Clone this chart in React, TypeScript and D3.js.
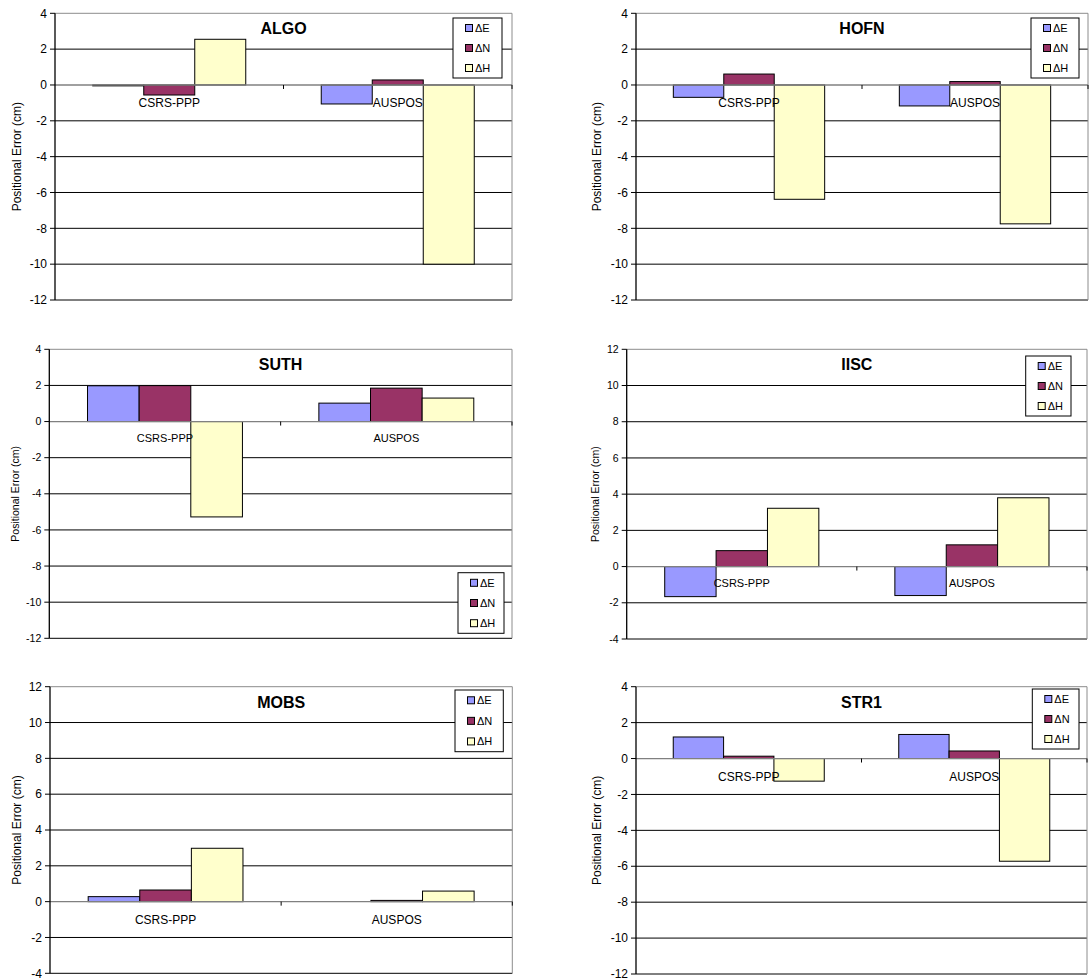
import React from "react";
import * as d3 from "d3";

// ---------- DATA ----------
const categories = ["CSRS-PPP", "AUSPOS"];
const seriesNames = ["ΔE", "ΔN", "ΔH"];
const seriesColors = ["#9999FF", "#993366", "#FFFFCC"];

const stations = ["ALGO", "HOFN", "SUTH", "IISC", "MOBS", "STR1"];
// values[category][series] in cm
const algoValues = [[-0.05, -0.56, 2.55], [-1.06, 0.28, -10.0]];
const hofnValues = [[-0.69, 0.61, -6.38], [-1.17, 0.19, -7.75]];
const suthValues = [[1.98, 1.99, -5.28], [1.02, 1.85, 1.3]];
const iiscValues = [[-1.66, 0.88, 3.22], [-1.6, 1.2, 3.8]];
const mobsValues = [[0.28, 0.65, 2.98], [0.0, 0.07, 0.59]];
const str1Values = [[1.2, 0.13, -1.26], [1.34, 0.42, -5.72]];
const stationValues = [algoValues, hofnValues, suthValues, iiscValues, mobsValues, str1Values];

const yDomains: [number, number][] = [[-12, 4], [-12, 4], [-12, 4], [-4, 12], [-4, 12], [-12, 4]];
const yTitle = "Positional Error (cm)";

// ---------- LAYOUT ----------
type Layout = {
  left: number; right: number; top: number; bottom: number;
  legend: { x: number; y: number; w: number; h: number };
  yTitleX: number; tickFont: number; catFont: number; yTitleFont: number;
  catDy: number;
};
const layouts: Layout[] = [
  { left: 55, right: 512, top: 13.3, bottom: 300, legend: { x: 453, y: 18, w: 49, h: 60 }, yTitleX: 17, tickFont: 12, catFont: 12, yTitleFont: 12, catDy: 22 },
  { left: 636, right: 1088, top: 13.3, bottom: 300, legend: { x: 1031, y: 18, w: 48, h: 60 }, yTitleX: 597, tickFont: 12, catFont: 12, yTitleFont: 12, catDy: 22 },
  { left: 49.3, right: 512, top: 349.3, bottom: 638.3, legend: { x: 458, y: 572.7, w: 46, h: 60.6 }, yTitleX: 15, tickFont: 10.5, catFont: 11, yTitleFont: 10.5, catDy: 20 },
  { left: 626.7, right: 1087, top: 349.3, bottom: 639, legend: { x: 1025.7, y: 356, w: 45.3, h: 60 }, yTitleX: 595, tickFont: 10.5, catFont: 11, yTitleFont: 10.5, catDy: 20 },
  { left: 50, right: 512.3, top: 686.7, bottom: 973.3, legend: { x: 455, y: 690, w: 48.3, h: 61.7 }, yTitleX: 17, tickFont: 12, catFont: 12, yTitleFont: 12, catDy: 22 },
  { left: 636, right: 1087, top: 686.7, bottom: 974, legend: { x: 1032.3, y: 689, w: 46.7, h: 60 }, yTitleX: 597, tickFont: 12, catFont: 12, yTitleFont: 12, catDy: 22 },
];

const FONT = "'Liberation Sans', Arial, Helvetica, sans-serif";

function Panel({ idx }: { idx: number }) {
  const L = layouts[idx];
  const values = stationValues[idx];
  const [ymin, ymax] = yDomains[idx];
  const y = d3.scaleLinear().domain([ymin, ymax]).range([L.bottom, L.top]);
  const ticks = d3.range(ymin, ymax + 0.001, 2);
  const x0 = d3.scaleBand<string>().domain(categories).range([L.left, L.right]).padding(0);
  const x1 = d3.scaleBand<string>().domain(seriesNames).range([0, x0.bandwidth()]).paddingInner(0).paddingOuter(0.74);
  const y0 = y(0);
  const cx = (L.left + L.right) / 2;
  const midY = (L.top + L.bottom) / 2;

  return (
    <g>
      {/* gridlines */}
      {ticks.filter((t) => t !== ymax && t !== 0).map((t) => (
        <line key={t} x1={L.left} x2={L.right} y1={y(t)} y2={y(t)} stroke="#000" strokeWidth={1} />
      ))}
      {/* plot border top/right */}
      <line x1={L.left} x2={L.right} y1={L.top} y2={L.top} stroke="#8c8c8c" strokeWidth={1} />
      <line x1={L.right} x2={L.right} y1={L.top} y2={L.bottom} stroke="#8c8c8c" strokeWidth={1} />
      {/* bars */}
      {categories.map((c, ci) =>
        seriesNames.map((s, si) => {
          const v = values[ci][si];
          const bx = (x0(c) as number) + (x1(s) as number);
          const top = Math.min(y(v), y0);
          const h = Math.abs(y(v) - y0);
          return (
            <rect key={c + s} x={bx} y={top} width={x1.bandwidth()} height={h}
              fill={seriesColors[si]} stroke="#000" strokeWidth={1} />
          );
        })
      )}
      {/* zero axis */}
      <line x1={L.left} x2={L.right} y1={y0} y2={y0} stroke="#808080" strokeWidth={1.3} />
      {categories.map((c) => {
        const xb = (x0(c) as number) + x0.bandwidth();
        return <line key={"t" + c} x1={xb} x2={xb} y1={y0} y2={y0 + 4} stroke="#000" strokeWidth={1} />;
      })}
      {/* y axis */}
      <line x1={L.left} x2={L.left} y1={L.top} y2={L.bottom} stroke="#000" strokeWidth={1.3} />
      {ticks.map((t) => (
        <g key={"yt" + t}>
          <line x1={L.left - 5} x2={L.left} y1={y(t)} y2={y(t)} stroke="#000" strokeWidth={1} />
          <text x={L.left - 8} y={y(t)} dy="0.35em" textAnchor="end" fontSize={L.tickFont} fontFamily={FONT} fill="#000">
            {t}
          </text>
        </g>
      ))}
      {/* category labels */}
      {categories.map((c) => (
        <text key={"cl" + c} x={(x0(c) as number) + x0.bandwidth() / 2} y={y0 + L.catDy}
          textAnchor="middle" fontSize={L.catFont} fontFamily={FONT} fill="#000">
          {c}
        </text>
      ))}
      {/* y title */}
      <text transform={`translate(${L.yTitleX},${midY}) rotate(-90)`} textAnchor="middle" dy="0.35em"
        fontSize={L.yTitleFont} fontFamily={FONT} fill="#000">
        {yTitle}
      </text>
      {/* chart title */}
      <text x={cx} y={L.top + 21} textAnchor="middle" fontSize={16} fontWeight="bold" fontFamily={FONT} fill="#000">
        {stations[idx]}
      </text>
      {/* legend */}
      <rect x={L.legend.x} y={L.legend.y} width={L.legend.w} height={L.legend.h} fill="#fff" stroke="#000" strokeWidth={1} />
      {seriesNames.map((s, si) => {
        const ey = L.legend.y + L.legend.h * (si * 2 + 1) / 6;
        return (
          <g key={"lg" + s}>
            <rect x={L.legend.x + 12.5} y={ey - 3.5} width={7} height={7} fill={seriesColors[si]} stroke="#000" strokeWidth={1} />
            <text x={L.legend.x + 22} y={ey} dy="0.35em" fontSize={11} fontFamily={FONT} fill="#000">{s}</text>
          </g>
        );
      })}
    </g>
  );
}

export default function App() {
  return (
    <svg width={1089} height={980} style={{ position: "absolute", left: 0, top: 0, background: "#fff" }}>
      <rect x={0} y={0} width={1089} height={980} fill="#fff" />
      {stations.map((s, i) => (
        <Panel key={s} idx={i} />
      ))}
    </svg>
  );
}
